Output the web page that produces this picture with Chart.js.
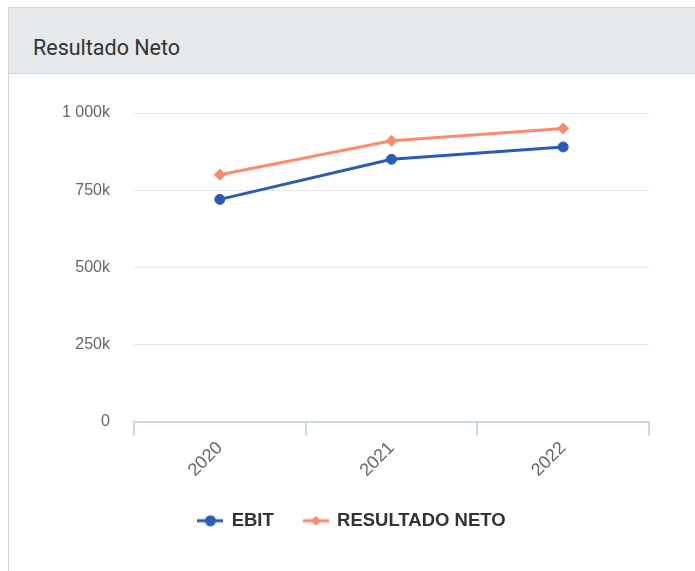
<!DOCTYPE html>
<html>
<head>
<meta charset="utf-8">
<script src="https://cdn.jsdelivr.net/npm/chart.js@4"></script>
<style>
  body { margin: 0; background: #fff; width: 695px; height: 571px; overflow: hidden; position: relative; }
  #card { position: absolute; left: 8px; top: 7px; width: 700px; height: 580px; border: 1px solid #d2d5d8; box-sizing: border-box; }
  #head { height: 66px; background: #e6e9ec; border-bottom: 1px solid #d2d5d8; box-sizing: border-box; }
  #head span { position: absolute; left: 24px; top: 27px; font: 21.5px Roboto, "Liberation Sans", sans-serif; color: #333; }
  #wrap { position: absolute; left: 9px; top: 73px; width: 686px; height: 498px; }
</style>
</head>
<body>
<div id="card"><div id="head"><span>Resultado Neto</span></div></div>
<div id="wrap"><canvas id="chart"></canvas></div>
<script>
// data
const years = ['2020', '2021', '2022'];
const ebit = [720000, 850000, 890000];
const resultadoNeto = [800000, 910000, 950000];
const yTicks = [0, 250000, 500000, 750000, 1000000];

const blue = '#2b5cb5';
const salmon = '#fd8a6e';

// legend symbol: line with marker
function legendIcon(color, shape) {
    const c = document.createElement('canvas');
    c.width = 26; c.height = 12;
    const g = c.getContext('2d');
    g.strokeStyle = color;
    g.lineWidth = 3;
    g.beginPath(); g.moveTo(0, 6); g.lineTo(26, 6); g.stroke();
    g.fillStyle = color;
    g.beginPath();
    if (shape === 'circle') {
        g.arc(13, 6, 5.5, 0, Math.PI * 2);
    } else {
        g.moveTo(13, 1); g.lineTo(18, 6); g.lineTo(13, 11); g.lineTo(8, 6); g.closePath();
    }
    g.fill();
    return c;
}

const ctx = document.getElementById('chart').getContext('2d');
new Chart(ctx, {
    type: 'line',
    data: {
        labels: years,
        datasets: [{
            label: 'EBIT',
            data: ebit,
            borderColor: blue,
            backgroundColor: blue,
            borderWidth: 3,
            pointStyle: 'circle',
            pointRadius: 5,
            pointBorderWidth: 1,
            pointHoverRadius: 5,
            tension: 0
        }, {
            label: 'RESULTADO NETO',
            data: resultadoNeto,
            borderColor: salmon,
            backgroundColor: salmon,
            borderWidth: 3,
            pointStyle: 'rectRot',
            pointRadius: 5.5,
            pointBorderWidth: 1,
            pointHoverRadius: 5.5,
            tension: 0
        }]
    },
    options: {
        responsive: true,
        maintainAspectRatio: false,
        animation: false,
        layout: { padding: { top: 40, right: 0, left: 0, bottom: 31 } },
        scales: {
            x: {
                offset: true,
                grid: { offset: true, drawOnChartArea: false, drawTicks: true, tickLength: 14, color: '#ccd6eb', lineWidth: 2 },
                border: { color: '#ccd6eb', width: 2 },
                ticks: { color: '#666', font: { family: '"Liberation Sans", Arial', size: 18 }, minRotation: 45, maxRotation: 45, padding: 2 },
                afterFit: s => { s.height = 60; }
            },
            y: {
                min: 0,
                max: 1000000,
                afterBuildTicks: s => { s.ticks = yTicks.map(v => ({ value: v })); },
                grid: { color: '#e6e6e6', drawTicks: false },
                border: { display: false },
                ticks: {
                    color: '#666',
                    font: { family: '"Liberation Sans", Arial', size: 16 },
                    padding: 24,
                    callback: v => v === 0 ? '0' : (v / 1000).toLocaleString('fr-FR').replace(/\s/g, ' ') + 'k'
                },
                afterFit: s => { s.width = 125; }
            },
            // empty right-hand spacer so the legend stays centred on the card
            spacer: {
                type: 'linear',
                position: 'right',
                grid: { display: false },
                border: { display: false },
                ticks: { display: false },
                afterFit: s => { s.width = 46; }
            }
        },
        plugins: {
            tooltip: { enabled: false },
            legend: {
                position: 'bottom',
                labels: {
                    usePointStyle: true,
                    pointStyleWidth: 24,
                    color: '#333',
                    font: { family: '"Liberation Sans", Arial', size: 18.5, weight: 'bold' },
                    padding: 30,
                    generateLabels: chart => chart.data.datasets.map((d, i) => ({
                        text: d.label,
                        pointStyle: legendIcon(d.borderColor, i === 0 ? 'circle' : 'diamond'),
                        fontColor: '#333',
                        datasetIndex: i
                    }))
                }
            }
        }
    }
});
</script>
</body>
</html>
